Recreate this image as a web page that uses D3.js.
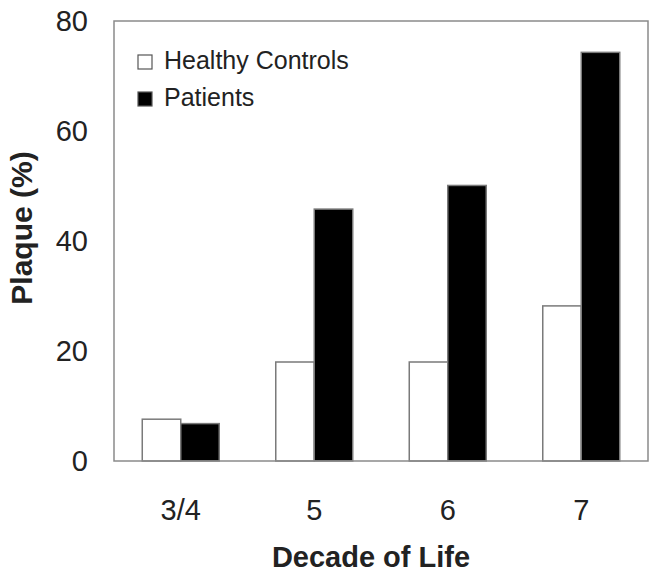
<!DOCTYPE html>
<html>
<head>
<meta charset="utf-8">
<script src="https://cdn.jsdelivr.net/npm/d3@7"></script>
<style>
  html, body { margin: 0; padding: 0; background: #fff; }
  svg { display: block; }
  text { font-family: "Liberation Sans", Arial, sans-serif; fill: #222; }
</style>
</head>
<body>
<svg id="chart" width="658" height="583"></svg>
<script>
const categories = ["3/4", "5", "6", "7"];
const seriesNames = ["Healthy Controls", "Patients"];
const healthyControls = [7.6, 18.0, 18.0, 28.2];
const patients = [6.8, 45.8, 50.1, 74.3];
const yTicks = [0, 20, 40, 60, 80];

const svg = d3.select("#chart");
const plotLeft = 114, plotRight = 648, plotTop = 21, plotBottom = 461;

const x = d3.scaleBand().domain(categories).range([plotLeft, plotRight]).padding(0);
const xs = d3.scaleBand().domain(seriesNames).range([0, x.bandwidth()]).paddingInner(0).paddingOuter(0.734);
const y = d3.scaleLinear().domain([0, 80]).range([plotBottom, plotTop]);

const rows = categories.map((c, i) => ({ cat: c, vals: [healthyControls[i], patients[i]] }));
const fills = ["#ffffff", "#000000"];

// bars
const g = svg.append("g");
rows.forEach(r => {
  r.vals.forEach((v, j) => {
    g.append("rect")
      .attr("x", x(r.cat) + xs(seriesNames[j]))
      .attr("y", y(v))
      .attr("width", xs.bandwidth())
      .attr("height", y(0) - y(v))
      .attr("fill", fills[j])
      .attr("stroke", "#7a7a7a")
      .attr("stroke-width", 1.5);
  });
});

// frame
svg.append("rect")
  .attr("x", plotLeft).attr("y", plotTop)
  .attr("width", plotRight - plotLeft).attr("height", plotBottom - plotTop)
  .attr("fill", "none").attr("stroke", "#8a8a8a").attr("stroke-width", 1.5);

// y axis labels
const yAxis = d3.axisLeft(y).tickValues(yTicks).tickSize(0).tickPadding(26).tickFormat(d3.format("d"));
const ya = svg.append("g").attr("transform", `translate(${plotLeft},0)`).call(yAxis);
ya.select(".domain").remove();
ya.selectAll("text").style("font-size", "29px").attr("fill", "#222");

// x axis labels
const xAxis = d3.axisBottom(x).tickSize(0).tickPadding(38);
const xa = svg.append("g").attr("transform", `translate(0,${plotBottom})`).call(xAxis);
xa.select(".domain").remove();
xa.selectAll("text").style("font-size", "29px").attr("fill", "#222");

// axis titles
svg.append("text")
  .attr("x", 371).attr("y", 567)
  .attr("text-anchor", "middle")
  .style("font-size", "29px").style("font-weight", "bold")
  .text("Decade of Life");

svg.append("text")
  .attr("transform", "translate(32,228) rotate(-90)")
  .attr("text-anchor", "middle")
  .style("font-size", "30px").style("font-weight", "bold")
  .text("Plaque (%)");

// legend
const legend = svg.append("g");
seriesNames.forEach((s, i) => {
  const ly = 69 + i * 37;
  legend.append("rect")
    .attr("x", 138).attr("y", ly - 14)
    .attr("width", 14).attr("height", 14)
    .attr("fill", fills[i]).attr("stroke", "#555").attr("stroke-width", 1.2);
  legend.append("text")
    .attr("x", 164).attr("y", ly)
    .style("font-size", "25px")
    .text(s);
});
</script>
</body>
</html>
